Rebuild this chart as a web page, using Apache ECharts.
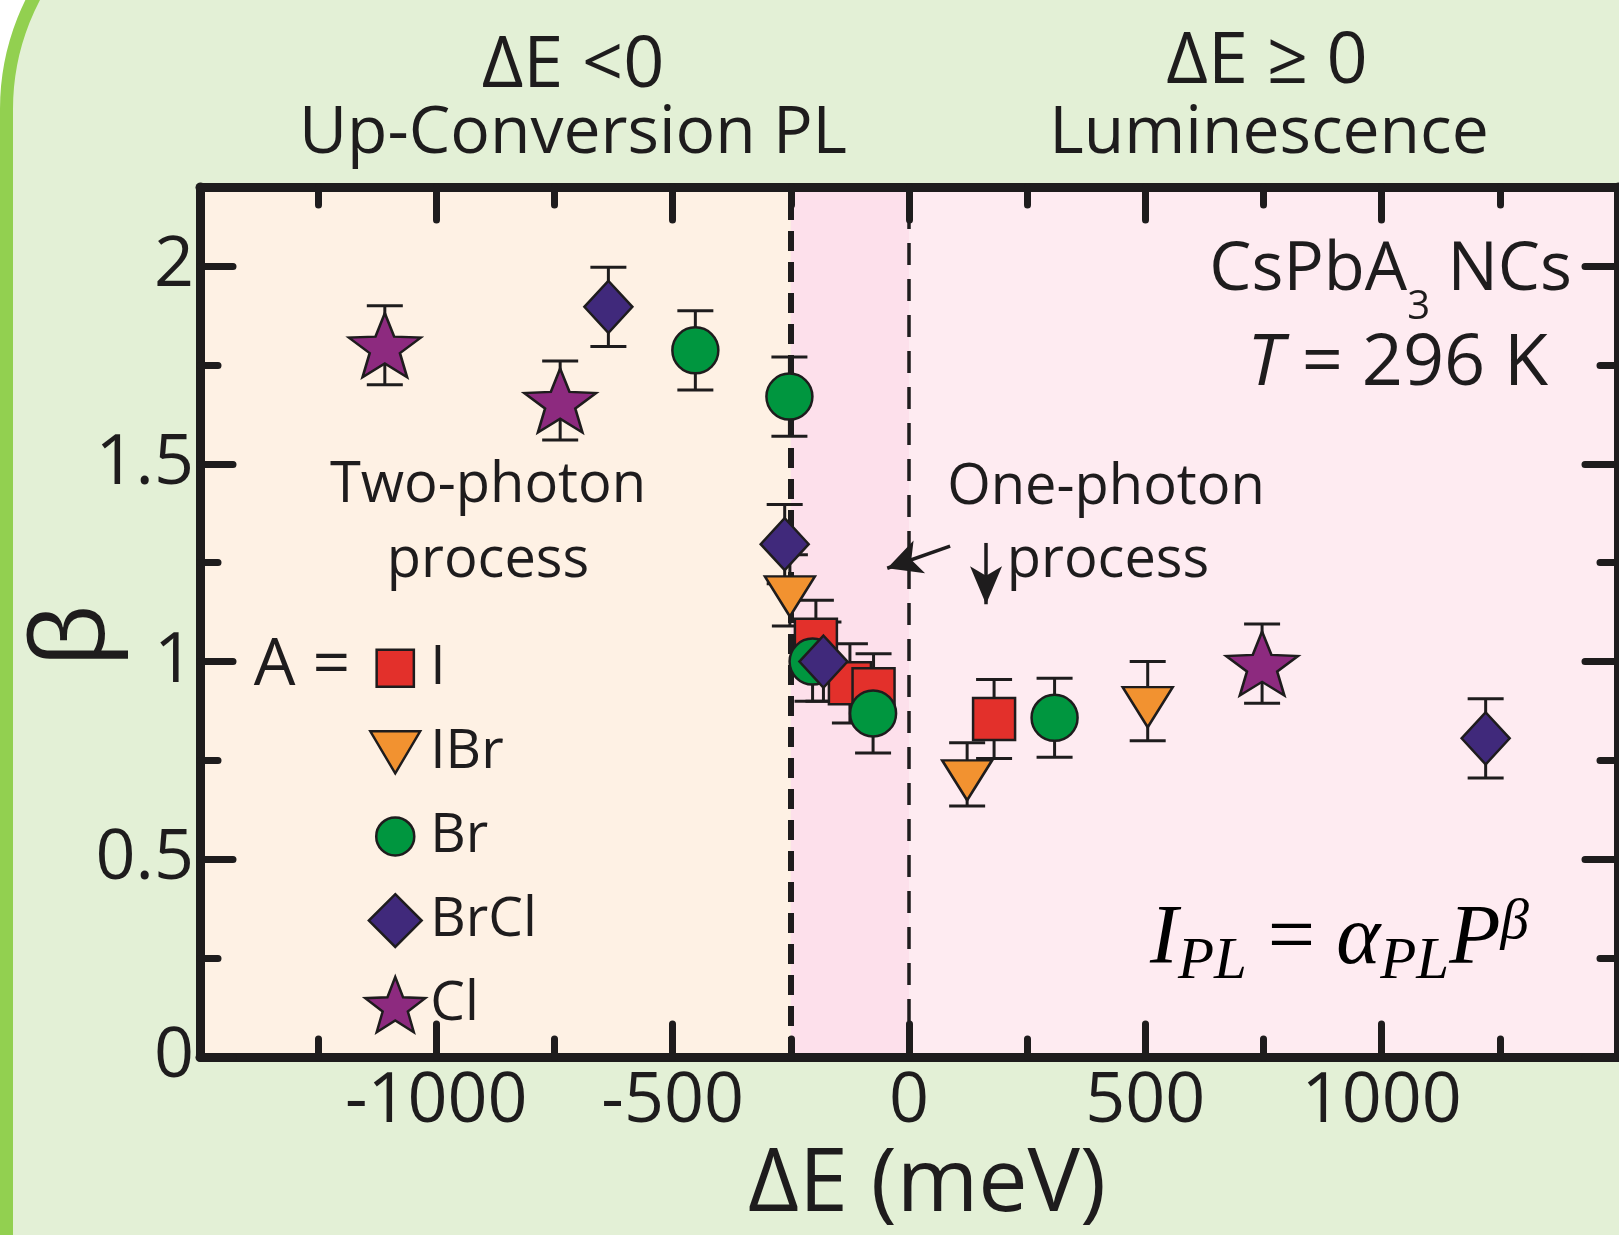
<!DOCTYPE html>
<html><head><meta charset="utf-8">
<script src="https://cdn.jsdelivr.net/npm/echarts@6/dist/echarts.min.js"></script>
<style>html,body{margin:0;padding:0;background:#fff}#c{width:1619px;height:1235px}</style>
</head><body><div id="c"></div>
<script>
// ---------------- data ----------------
const halides = ['I', 'IBr', 'Br', 'BrCl', 'Cl'];
// each row: [ΔE (meV), β, error]
const dataI    = [[-197, 1.055, 0.10], [-125, 0.945, 0.10], [-75, 0.93, 0.09], [180, 0.855, 0.10]];
const dataIBr  = [[-252, 1.18, 0.09], [123, 0.715, 0.08], [505, 0.90, 0.10]];
const dataBr   = [[-452, 1.787, 0.10], [-253, 1.67, 0.10], [-204, 1.0, 0.10], [-76, 0.869, 0.10], [308, 0.858, 0.10]];
const dataBrCl = [[-636, 1.897, 0.10], [-263, 1.297, 0.10], [-181, 1.0, 0.10], [1220, 0.806, 0.10]];
const dataCl   = [[-1109, 1.80, 0.10], [-738, 1.66, 0.10], [747, 0.995, 0.10]];
const xMajorTicks = [-1000, -500, 0, 500, 1000];
const xMinorTicks = [-1250, -750, -250, 250, 750, 1250];
const yMajorTicks = [0, 0.5, 1, 1.5, 2];
const yMinorTicks = [0.25, 0.75, 1.25, 1.75];
const regionBounds = [-1500, -250, 0, 1500];
const arrowLeft = [[87, 1.292], [-46, 1.236]];
const arrowDown = [[163, 1.30], [163, 1.145]];

// ---------------- styles ----------------
const INK = '#1e1c1d';
const FONT = '"Open Sans", "Noto Sans", sans-serif';
const SERIF = '"Liberation Serif", "DejaVu Serif", serif';
const colors = ['#E3302B', '#F29230', '#00963F', '#40297B', '#8D2A7F'];
const regionColors = ['#FEF1E4', '#FDE0EB', '#FEEBF1'];

function starPts(cx, cy, w, h, inner) {
  const pts = [];
  for (let i = 0; i < 10; i++) {
    const a = (-90 + i * 36) * Math.PI / 180;
    const rr = i % 2 === 0 ? 1 : inner;
    pts.push([Math.cos(a) * rr, Math.sin(a) * rr]);
  }
  return pts.map(p => [cx + p[0] / 0.951 * (w / 2), cy - h / 2 + (p[1] + 1) / 1.809 * h]);
}
function polyPath(pts) {
  return 'M' + pts.map(p => p[0].toFixed(2) + ',' + p[1].toFixed(2)).join('L') + 'Z';
}
const starSymbol = 'path://' + polyPath(starPts(0, 0, 190, 181, 0.42));
const triSymbol = 'path://M0,0L100,0L50,80Z';

const PAD = 'M0,0M100,100';
const legendIcons = [
  'path://' + PAD + 'M19,19L81,19L81,81L19,81Z',
  'path://' + PAD + 'M8.5,15L91.5,15L50,85Z',
  'path://' + PAD + 'M18.3,50A31.7,31.7 0 1 0 81.7,50A31.7,31.7 0 1 0 18.3,50Z',
  'path://' + PAD + 'M50,6L94,50L50,94L6,50Z',
  'path://' + PAD + polyPath(starPts(50, 50, 100, 92, 0.42))
];
const seriesData = [dataI, dataIBr, dataBr, dataBrCl, dataCl];
const symbols = ['rect', triSymbol, 'circle', 'diamond', starSymbol];
const symbolSizes = [42, [50, 40], 46, [48, 52], [72, 64]];
const symbolOffsets = [[0, 0], [0, 6], [0, 0], [0, 0], [0, 0]];

function errRender(params, api) {
  const x = api.value(0), y = api.value(1), e = api.value(2);
  const hi = api.coord([x, y + e]), lo = api.coord([x, y - e]);
  const w = 18;
  const st = { stroke: INK, lineWidth: 3 };
  return { type: 'group', children: [
    { type: 'line', shape: { x1: hi[0], y1: hi[1], x2: lo[0], y2: lo[1] }, style: st },
    { type: 'line', shape: { x1: hi[0] - w, y1: hi[1], x2: hi[0] + w, y2: hi[1] }, style: st },
    { type: 'line', shape: { x1: lo[0] - w, y1: lo[1], x2: lo[0] + w, y2: lo[1] }, style: st }
  ]};
}

const axisLineOn = { show: true, onZero: false, lineStyle: { color: INK, width: 9 } };
const tickMajor = (vals) => ({ show: true, inside: true, length: 33, customValues: vals, lineStyle: { color: INK, width: 7, cap: 'round' } });
const tickMinor = (vals) => ({ show: true, inside: true, length: 18, customValues: vals, lineStyle: { color: INK, width: 7, cap: 'round' } });
const xBase = { type: 'value', min: -1500, max: 1500, interval: 500, z: 6, splitLine: { show: false } };
const yBase = { type: 'value', min: 0, max: 2.2, interval: 0.5, z: 6, splitLine: { show: false } };

const series = [];
series.push({
  type: 'scatter', name: '_regions', data: [], z: 1, silent: true,
  markArea: { silent: true, z: 1, data: regionColors.map((c, i) => [
    { xAxis: regionBounds[i], itemStyle: { color: c } }, { xAxis: regionBounds[i + 1] }]) },
  markLine: { silent: true, z: 2, symbol: 'none', label: { show: false }, animation: false,
    data: [
      { xAxis: regionBounds[1], lineStyle: { type: [20, 11], width: 6, color: INK } },
      { xAxis: regionBounds[2], lineStyle: { type: [22, 14], width: 3.5, color: INK } },
      [{ coord: arrowLeft[0], symbol: 'none', lineStyle: { type: 'solid', width: 3.5, color: INK } },
       { coord: arrowLeft[1], symbol: 'arrow', symbolSize: [26, 34] }],
      [{ coord: arrowDown[0], symbol: 'none', lineStyle: { type: 'solid', width: 3.5, color: INK } },
       { coord: arrowDown[1], symbol: 'arrow', symbolSize: [24, 38] }]
    ] }
});
seriesData.forEach((d, i) => {
  series.push({
    type: 'custom', name: halides[i] + ' error', data: d, renderItem: errRender,
    encode: { x: 0, y: 1 }, z: 3, silent: true
  });
});
seriesData.forEach((d, i) => {
  series.push({
    type: 'scatter', name: halides[i], data: d.map(r => [r[0], r[1]]),
    symbol: symbols[i], symbolSize: symbolSizes[i], symbolOffset: symbolOffsets[i], z: 4 + i * 0.01,
    itemStyle: { color: colors[i], opacity: 1, borderColor: INK, borderWidth: 2.5 },
    emphasis: { disabled: true }
  });
});

const txt = (x, y, text, size, extra) => ({
  type: 'text', x: x, y: y, silent: true, z: 50,
  style: Object.assign({ text: text, fontFamily: FONT, fontSize: size, fill: INK, align: 'center', verticalAlign: 'middle' }, extra || {})
});

const option = {
  animation: false,
  backgroundColor: '#ffffff',
  grid: { left: 200, top: 187, width: 1418, height: 873, containLabel: false },
  xAxis: [
    Object.assign({}, xBase, { position: 'bottom', axisLine: axisLineOn, axisTick: tickMajor(xMajorTicks),
      axisLabel: { show: true, customValues: xMajorTicks, formatter: v => String(v), fontSize: 70, fontFamily: FONT, color: INK, margin: 10 },
      name: 'ΔE (meV)', nameLocation: 'middle', nameGap: 84,
      nameTextStyle: { fontSize: 88, fontFamily: FONT, color: INK, padding: [0, 0, 0, 36] } }),
    Object.assign({}, xBase, { position: 'bottom', axisLine: { show: false, onZero: false }, axisTick: tickMinor(xMinorTicks), axisLabel: { show: false } }),
    Object.assign({}, xBase, { position: 'top', axisLine: axisLineOn, axisTick: tickMajor(xMajorTicks), axisLabel: { show: false } }),
    Object.assign({}, xBase, { position: 'top', axisLine: { show: false, onZero: false }, axisTick: tickMinor(xMinorTicks), axisLabel: { show: false } })
  ],
  yAxis: [
    Object.assign({}, yBase, { position: 'left', axisLine: axisLineOn, axisTick: tickMajor(yMajorTicks),
      axisLabel: { show: true, customValues: yMajorTicks, formatter: v => String(v), fontSize: 70, fontFamily: FONT, color: INK, margin: 6 } }),
    Object.assign({}, yBase, { position: 'left', axisLine: { show: false, onZero: false }, axisTick: tickMinor(yMinorTicks), axisLabel: { show: false } }),
    Object.assign({}, yBase, { position: 'right', axisLine: axisLineOn, axisTick: tickMajor(yMajorTicks), axisLabel: { show: false } }),
    Object.assign({}, yBase, { position: 'right', axisLine: { show: false, onZero: false }, axisTick: tickMinor(yMinorTicks), axisLabel: { show: false } })
  ],
  legend: {
    orient: 'vertical', left: 364, top: 637, padding: 0, itemWidth: 60, itemHeight: 60, itemGap: 21.6,
    selectedMode: false,
    textStyle: { fontFamily: FONT, fontSize: 55, color: INK },
    itemStyle: { borderColor: INK, borderWidth: 2.5 },
    data: halides.map((n, i) => ({ name: n, icon: legendIcons[i] }))
  },
  graphic: { elements: [
    { type: 'rect', z: -100, silent: true, shape: { x: 6.5, y: -131, width: 3000, height: 3000, r: 240 },
      style: { fill: '#E3F0D6', stroke: '#92D050', lineWidth: 13 } },
    txt(76, 636, 'β', 100, { }),
    txt(573, 66, 'ΔE <0', 72),
    txt(573, 134, 'Up-Conversion PL', 66),
    txt(1267, 62, 'ΔE ≥ 0', 72),
    txt(1269, 134, 'Luminescence', 66),
    txt(488, 486, 'Two-photon', 56),
    txt(488, 561, 'process', 56),
    txt(1106, 488, 'One-photon', 56),
    txt(1108, 561, 'process', 56),
    txt(302, 666, 'A =', 66),
    { type: 'text', x: 1572, y: 237, silent: true, z: 50,
      style: { text: '{n|CsPbA}{s|3}{n| NCs}', align: 'right', verticalAlign: 'top', fill: INK,
        rich: { n: { fontFamily: FONT, fontSize: 67, verticalAlign: 'top', fill: INK },
                s: { fontFamily: FONT, fontSize: 40, verticalAlign: 'top', padding: [51, 0, 0, 0], fill: INK } } } },
    { type: 'text', x: 1548, y: 364, silent: true, z: 50,
      style: { text: '{it|T}{n| = 296 K}', align: 'right', verticalAlign: 'middle', fill: INK,
        rich: { it: { fontFamily: FONT, fontSize: 72, fontStyle: 'italic', fill: INK },
                n: { fontFamily: FONT, fontSize: 72, fill: INK } } } },
    { type: 'text', x: 1150, y: 895, silent: true, z: 50,
      style: { text: '{m|I}{sb|PL}{e| = }{m|α}{sb|PL}{m|P}{sp|β}', align: 'left', verticalAlign: 'top', fill: '#000',
        rich: { m: { fontFamily: SERIF, fontSize: 84, fontStyle: 'italic', verticalAlign: 'top', padding: [4, 0, 0, 0], fill: '#000' },
                e: { fontFamily: SERIF, fontSize: 84, verticalAlign: 'top', padding: [4, 0, 0, 0], fill: '#000' },
                sb: { fontFamily: SERIF, fontSize: 59, fontStyle: 'italic', verticalAlign: 'top', padding: [38, 0, 0, 0], fill: '#000' },
                sp: { fontFamily: SERIF, fontSize: 57, fontStyle: 'italic', verticalAlign: 'top', fill: '#000' } } } }
  ] },
  series: series
};
option.graphic.elements[1].rotation = Math.PI / 2;

const chart = echarts.init(document.getElementById('c'), null, { renderer: 'canvas' });
chart.setOption(option);
</script>
</body></html>
